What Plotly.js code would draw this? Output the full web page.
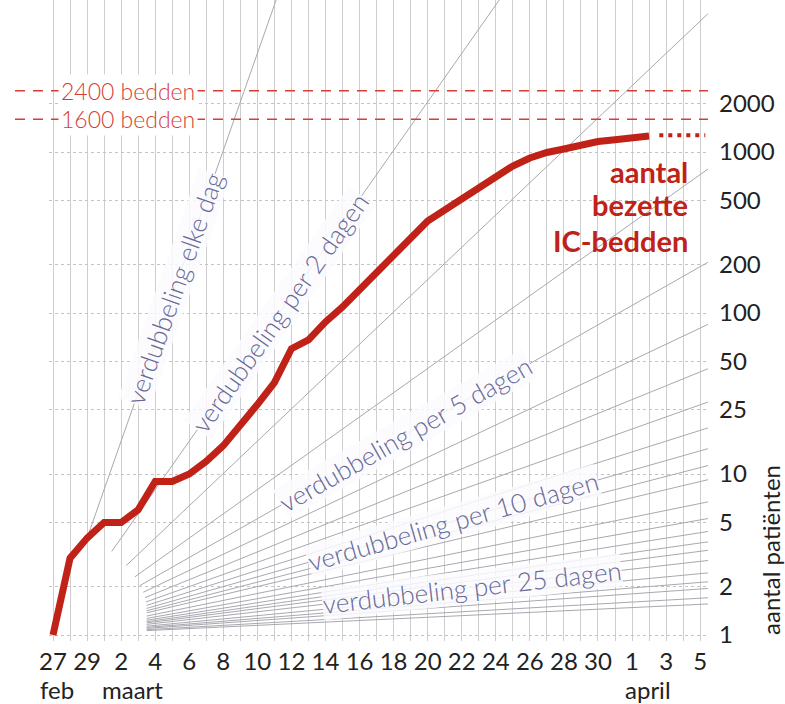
<!DOCTYPE html>
<html><head><meta charset="utf-8">
<script src="https://cdn.plot.ly/plotly-3.0.1.min.js"></script>
<style>html,body{margin:0;padding:0;background:#fff}#chart{width:785px;height:704px}</style>
</head><body><div id="chart"></div>
<script>
// day 0 = 27 februari 2020
const days = [0,1,2,3,4,5,6,7,8,9,10,11,12,13,14,15,16,17,18,19,20,21,22,23,24,25,26,27,28,29,30,31,32,33,34,35];
const icPatients = [1,3,4,5,5,6,9,9,10,12,15,20,27,37,60,68,88,109,139,176,226,288,373,436,510,606,709,819,918,993,1044,1106,1162,1192,1222,1257];
const projDays = [35.6, 38.3];
const projValues = [1270, 1270];

const doublingPeriods = [1,2,3,4,5,6,7,8,9,10,11,12,14,16,18,20,22,25,30,35,40,50,60];
const doublingStart   = [2.0,3.45,4.3,4.8,5.1,5.3,5.4,5.45,5.5,5.5,5.5,5.5,5.5,5.5,5.5,5.5,5.5,5.5,5.5,5.5,5.5,5.5,5.5];
const lastDay = 38.46;

const labelPeriods = [1,2,5,10,25];
const labelTexts = ['verdubbeling elke dag','verdubbeling per 2 dagen','verdubbeling per 5 dagen','verdubbeling per 10 dagen','verdubbeling per 25 dagen'];
const labelDays = [7.15,13.3,20.7,23.5,24.6];

const tickDays = [];
const tickLabels = ['27','','29','','2','','4','','6','','8','','10','','12','','14','','16','','18','','20','','22','','24','','26','','28','','30','','1','','3','','5'];
for (let i = 0; i <= 38; i++) tickDays.push(i);

const monthLabels = ['feb','maart','april'];
const monthPos = [-0.0167, 0.0774, 0.871];

const yTicks = [1,2,5,10,25,50,100,200,500,1000,2000];
const yTickLabels = ['1','2','5','10','25','50','100','200','500','1000','2000'];

const bedLimits = [2400,1600];
const bedLabels = ['2400 bedden','1600 bedden'];

const seriesLabel = ['aantal','bezette','IC-bedden'];
const seriesLabelY = [2.876, 2.671, 2.453];

const FONT = 'Lato, "Open Sans", sans-serif';
const RED = 'rgb(192,34,24)';
const LRED = 'rgb(214,62,52)';
const LAB = 'rgb(104,104,150)';

const traces = [];
doublingPeriods.forEach((n, i) => {
  const s = doublingStart[i];
  traces.push({
    x: [s, lastDay], y: [Math.pow(2, s / n), Math.pow(2, lastDay / n)],
    mode: 'lines', line: {color: 'rgb(168,168,176)', width: 1},
    hoverinfo: 'skip', showlegend: false
  });
});
traces.push({x: days, y: icPatients, mode: 'lines', line: {color: RED, width: 7, shape: 'linear'}, showlegend: false});
traces.push({x: projDays, y: projValues, mode: 'lines', line: {color: RED, width: 4, dash: '4px,5px'}, showlegend: false});

const angles = [-70.6,-54.8,-29.6,-15.9,-6.5];
const annotations = [];
labelPeriods.forEach((n, i) => {
  const d = labelDays[i];
  annotations.push({
    x: d, y: (d / n) * Math.log10(2), xref: 'x', yref: 'y',
    text: labelTexts[i], showarrow: false, textangle: angles[i],
    font: {family: FONT, size: 26, color: LAB, weight: 300},
    bgcolor: 'rgba(252,252,255,0.85)', borderpad: 0
  });
});
bedLimits.forEach((v, i) => {
  annotations.push({
    x: 8.5, y: Math.log10(v), xref: 'x', yref: 'y', xanchor: 'right', yanchor: 'middle',
    text: bedLabels[i], showarrow: false,
    font: {family: FONT, size: 23, color: LRED, weight: 300},
    bgcolor: '#ffffff', borderpad: 2
  });
});
seriesLabel.forEach((t, i) => {
  annotations.push({
    x: 37.4, y: seriesLabelY[i], xref: 'x', yref: 'y', xanchor: 'right', yanchor: 'middle',
    text: t, showarrow: false,
    font: {family: FONT, size: 29, color: RED, weight: 700}
  });
});
monthLabels.forEach((m, i) => {
  annotations.push({
    x: monthPos[i], y: -0.0764, xref: 'paper', yref: 'paper', xanchor: 'left', yanchor: 'middle',
    text: m, showarrow: false, font: {family: FONT, size: 24, color: '#222'}
  });
});
annotations.push({
  x: 1.0956, y: 0.142, xref: 'paper', yref: 'paper', xanchor: 'center', yanchor: 'middle',
  text: 'aantal patiënten', textangle: -90, showarrow: false,
  font: {family: FONT, size: 24, color: '#222'}
});

const shapes = bedLimits.map(v => ({
  type: 'line', xref: 'paper', yref: 'y', x0: -0.0516, x1: 1, y0: v, y1: v,
  line: {color: LRED, width: 1.5, dash: '10px,8px'}, layer: 'above'
}));

const layout = {
  width: 785, height: 704,
  margin: {l: 49, r: 77, t: 0, b: 63},
  paper_bgcolor: '#fff', plot_bgcolor: '#fff',
  showlegend: false,
  xaxis: {
    range: [-0.235, lastDay], tickvals: tickDays, ticktext: tickLabels,
    showgrid: true, gridcolor: 'rgb(206,206,206)', gridwidth: 1,
    zeroline: false, showline: false, ticks: '', ticklabelstandoff: 4,
    tickfont: {family: FONT, size: 24, color: '#222'}
  },
  yaxis: {
    type: 'log', side: 'right', range: [-0.037, 3.944],
    tickvals: yTicks, ticktext: yTickLabels,
    showgrid: true, gridcolor: 'rgb(196,196,196)', griddash: 'dot', gridwidth: 1,
    zeroline: false, showline: false, ticks: '', ticklabelstandoff: 10,
    tickfont: {family: FONT, size: 24, color: '#222'}
  },
  annotations: annotations,
  shapes: shapes
};
Plotly.newPlot('chart', traces, layout, {displayModeBar: false, staticPlot: true});
</script></body></html>
